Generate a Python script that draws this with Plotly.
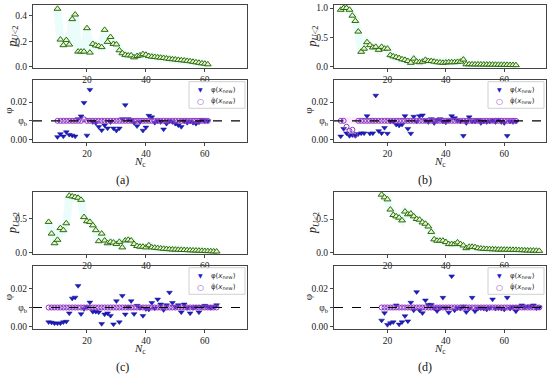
import plotly.graph_objects as go

PHI_T = 0.01
X_TICKS = [20, 40, 60]

# ---------------- panel (a) ----------------
N_a = list(range(10, 62))
pU_a = [0.455, 0.214, 0.17, 0.21, 0.175, 0.374, 0.41, 0.12, 0.12, 0.12,
        0.303, 0.112, 0.18, 0.168, 0.163, 0.155, 0.29, 0.196, 0.234, 0.18,
        0.176, 0.13, 0.107, 0.094, 0.09, 0.09, 0.075, 0.085, 0.09, 0.1,
        0.095, 0.085, 0.08, 0.078, 0.075, 0.072, 0.07, 0.066, 0.063, 0.06,
        0.058, 0.055, 0.052, 0.05, 0.047, 0.044, 0.04, 0.036, 0.032, 0.028,
        0.025, 0.02]
phi_a = [0.0014, 0.003, 0.0017, 0.004, 0.0026, 0.0022, 0.0017, 0.011, 0.0125, 0.0197,
         0.0022, 0.0267, 0.0094, 0.0089, 0.0068, 0.005, 0.0077, 0.006, 0.0094, 0.006,
         0.0048, 0.006, 0.011, 0.0185, 0.011, 0.0103, 0.009, 0.0072, 0.0094, 0.0048,
         0.0065, 0.0128, 0.012, 0.009, 0.0099, 0.0094, 0.0055, 0.0085, 0.0099, 0.0094,
         0.0085, 0.0077, 0.0068, 0.0099, 0.009, 0.0097, 0.009, 0.0085, 0.0092, 0.0106,
         0.0099, 0.0099]
phihat_a = [0.01] * 9 + [0.0108] + [0.01] * 42

# ---------------- panel (b) ----------------
N_b = list(range(4, 65))
pU_b = [0.97, 1.0, 1.0, 0.97, 0.87, 0.78, 0.6, 0.257, 0.31, 0.42,
        0.37, 0.33, 0.34, 0.29, 0.34, 0.31, 0.31, 0.2, 0.18, 0.165,
        0.15, 0.13, 0.12, 0.1, 0.07, 0.14, 0.09, 0.08, 0.09, 0.12,
        0.1, 0.1, 0.09, 0.08, 0.075, 0.07, 0.075, 0.08, 0.08, 0.08,
        0.085, 0.09, 0.125, 0.045, 0.045, 0.044, 0.043, 0.043, 0.042, 0.041,
        0.04, 0.04, 0.039, 0.038, 0.037, 0.036, 0.035, 0.034, 0.033, 0.032,
        0.03]
phi_b = [0.0017, 0.0058, 0.0034, 0.002, 0.0024, 0.002, 0.003, 0.0034, 0.0034, 0.0126,
         0.0032, 0.0034, 0.0236, 0.0046, 0.0034, 0.0063, 0.0032, 0.0097, 0.0097, 0.008,
         0.0075, 0.008, 0.0126, 0.0058, 0.0032, 0.0123, 0.0097, 0.0126, 0.013, 0.0103,
         0.0094, 0.011, 0.0089, 0.0103, 0.011, 0.0097, 0.0092, 0.0103, 0.0126, 0.0115,
         0.0103, 0.0097, 0.002, 0.0089, 0.012, 0.0097, 0.0097, 0.0103, 0.0089, 0.0097,
         0.0094, 0.0097, 0.0103, 0.0094, 0.0106, 0.0094, 0.0089, 0.002, 0.0097, 0.0094,
         0.0097]
phihat_b = [0.01, 0.01, 0.0068, 0.0046, 0.0052, 0.0025] + [0.01] * 55

# ---------------- panel (c) ----------------
N_c = list(range(7, 65))
pU_c = [0.45, 0.28, 0.14, 0.19, 0.36, 0.33, 0.43, 0.83, 0.82, 0.81,
        0.80, 0.77, 0.52, 0.46, 0.45, 0.40, 0.33, 0.17, 0.28, 0.18,
        0.14, 0.16, 0.15, 0.13, 0.16, 0.08, 0.18, 0.19, 0.18, 0.13,
        0.1, 0.09, 0.09, 0.08, 0.11, 0.08, 0.075, 0.07, 0.065, 0.06,
        0.056, 0.053, 0.05, 0.048, 0.046, 0.044, 0.042, 0.04, 0.038, 0.036,
        0.034, 0.032, 0.03, 0.028, 0.026, 0.024, 0.022, 0.02]
phi_c = [0.0023, 0.0021, 0.0017, 0.0017, 0.0017, 0.0023, 0.0026, 0.007, 0.0148, 0.0153,
         0.0214, 0.0066, 0.0092, 0.0104, 0.0127, 0.0078, 0.0078, 0.0075, 0.0014, 0.0064,
         0.007, 0.0057, 0.0012, 0.0134, 0.0023, 0.0162, 0.0064, 0.0104, 0.0134, 0.0066,
         0.011, 0.0099, 0.0056, 0.0092, 0.009, 0.0125, 0.0096, 0.0143, 0.0117, 0.0087,
         0.0113, 0.0179, 0.0125, 0.0104, 0.0113, 0.0075, 0.0117, 0.0099, 0.007, 0.0099,
         0.0104, 0.0075, 0.0104, 0.011, 0.0104, 0.0099, 0.0104, 0.0113]
phihat_c = [0.01] * 58

# ---------------- panel (d) ----------------
N_d = list(range(18, 73))
pU_d = [0.86, 0.82, 0.79, 0.64, 0.56, 0.54, 0.52, 0.48, 0.61, 0.57,
        0.58, 0.54, 0.5, 0.49, 0.45, 0.43, 0.39, 0.31, 0.2, 0.18,
        0.18, 0.18, 0.16, 0.13, 0.13, 0.13, 0.155, 0.13, 0.11, 0.07,
        0.09, 0.09, 0.085, 0.07, 0.065, 0.06, 0.058, 0.056, 0.054, 0.052,
        0.05, 0.049, 0.048, 0.047, 0.046, 0.045, 0.044, 0.042, 0.04, 0.038,
        0.036, 0.035, 0.034, 0.032, 0.03]
phi_d = [0.0032, 0.0071, 0.0009, 0.0018, 0.0023, 0.0112, 0.0011, 0.0023, 0.0055, 0.0028,
         0.0126, 0.0085, 0.0182, 0.0085, 0.0071, 0.0138, 0.0115, 0.0115, 0.0097, 0.0081,
         0.0097, 0.0152, 0.0097, 0.0073, 0.0265, 0.0085, 0.0097, 0.0094, 0.0106, 0.0076,
         0.0094, 0.0152, 0.008, 0.0094, 0.0097, 0.0094, 0.009, 0.0097, 0.0143, 0.0094,
         0.0097, 0.0094, 0.009, 0.0152, 0.0094, 0.0103, 0.008, 0.0103, 0.0112, 0.0103,
         0.0106, 0.0106, 0.0112, 0.0097, 0.0101]
phihat_d = [0.01] * 55

P_RANGES = [[-0.008, 0.485], [-0.017, 1.052], [-0.015, 0.885], [-0.015, 0.9]]
P_TICKS = [[0.0, 0.2, 0.4], [0.0, 0.5, 1.0], [0.0, 0.5], [0.0, 0.5]]
PANEL_LABELS = ["(a)", "(b)", "(c)", "(d)"]
LEGEND_LABELS = ["φ(<i>x</i><sub>new</sub>)", "φ\u0302(<i>x</i><sub>new</sub>)"]

panels = [(N_a, pU_a, phi_a, phihat_a), (N_b, pU_b, phi_b, phihat_b),
          (N_c, pU_c, phi_c, phihat_c), (N_d, pU_d, phi_d, phihat_d)]

W, H = 550, 378
COL_PX = [(33, 247), (334, 546)]
ROW_UP_PX = [(3, 67), (193, 256)]
ROW_LO_PX = [(79, 142), (268, 332)]


def px(x):
    return x / W


def py(y):
    return 1 - y / H


SERIF = "Liberation Serif"
TICKFONT = dict(family=SERIF, size=9.5, color="#222")
BLUE = "#1c1ccc"
PURPLE = "#8a3cc0"

fig = go.Figure()
layout = dict(width=W, height=H, margin=dict(l=0, r=0, t=0, b=0),
              paper_bgcolor="white", plot_bgcolor="white", showlegend=False)
annotations = []
shapes = []


def note(text, x, y, size, family=SERIF, color="#222", xanchor="center", angle=0):
    annotations.append(dict(text=text, xref="paper", yref="paper", x=x, y=y,
                            xanchor=xanchor, yanchor="middle", textangle=angle,
                            showarrow=False, borderpad=0,
                            font=dict(family=family, size=size, color=color)))


for i, (N, pU, phi, hat) in enumerate(panels):
    col, row = i % 2, i // 2
    ia, ib = 2 * i + 1, 2 * i + 2
    xa = "x" if ia == 1 else "x%d" % ia
    ya = "y" if ia == 1 else "y%d" % ia
    xb, yb = "x%d" % ib, "y%d" % ib

    # top subplot
    fig.add_trace(go.Scatter(x=N, y=pU, mode="lines", xaxis=xa, yaxis=ya,
                             line=dict(color="rgba(80,235,225,0.12)", width=8),
                             hoverinfo="skip"))
    fig.add_trace(go.Scatter(x=N, y=pU, mode="markers", xaxis=xa, yaxis=ya,
                             marker=dict(symbol="triangle-up", size=6, color="#e9f7c6",
                                         line=dict(color="#2c6a10", width=1))))
    # bottom subplot
    fig.add_trace(go.Scatter(x=N, y=[PHI_T] * len(N), mode="lines", xaxis=xb, yaxis=yb,
                             line=dict(color="rgba(255,120,255,0.15)", width=7),
                             hoverinfo="skip"))
    fig.add_trace(go.Scatter(x=N, y=phi, mode="markers", xaxis=xb, yaxis=yb,
                             marker=dict(symbol="triangle-down", size=5, color=BLUE,
                                         line=dict(color="#101080", width=0.5))))
    fig.add_trace(go.Scatter(x=N, y=hat, mode="markers", xaxis=xb, yaxis=yb,
                             marker=dict(symbol="circle-open", size=5, color=PURPLE,
                                         line=dict(width=1))))

    cx = [px(COL_PX[col][0]), px(COL_PX[col][1])]
    up = [py(ROW_UP_PX[row][1]), py(ROW_UP_PX[row][0])]
    lo = [py(ROW_LO_PX[row][1]), py(ROW_LO_PX[row][0])]

    ax_common = dict(showline=True, mirror=True, linecolor="#444", linewidth=1,
                     ticks="outside", ticklen=3, tickcolor="#444", showgrid=False,
                     zeroline=False, tickfont=TICKFONT)
    xk_a = "xaxis" if ia == 1 else "xaxis%d" % ia
    yk_a = "yaxis" if ia == 1 else "yaxis%d" % ia
    layout[xk_a] = dict(domain=cx, anchor=ya, range=[1.7, 74.3],
                        tickvals=X_TICKS, **ax_common)
    layout[yk_a] = dict(domain=up, anchor=xa, range=P_RANGES[i],
                        tickvals=P_TICKS[i], tickformat=".1f", **ax_common)
    layout["xaxis%d" % ib] = dict(domain=cx, anchor=yb, range=[1.7, 74.3],
                                  tickvals=X_TICKS, **ax_common)
    layout["yaxis%d" % ib] = dict(domain=lo, anchor=xb, range=[-0.0012, 0.032],
                                  tickvals=[0.0, PHI_T, 0.02],
                                  ticktext=["0.00", "φ<sub>b</sub>", "0.02"], **ax_common)

    shapes.append(dict(type="line", xref="%s domain" % xb, yref=yb, x0=0, x1=1,
                       y0=PHI_T, y1=PHI_T, line=dict(color="black", width=1.2, dash="dash")))

    # manual legend box
    lr = COL_PX[col][1] - 2
    ll = lr - 56
    lt = ROW_LO_PX[row][0] + 2
    lbt = lt + 27
    shapes.append(dict(type="rect", xref="paper", yref="paper",
                       x0=px(ll), x1=px(lr), y0=py(lbt), y1=py(lt),
                       fillcolor="rgba(255,255,255,0.9)", line=dict(color="#d0d0d0", width=1)))
    for k, (sym, colr, sz) in enumerate([("▼", BLUE, 6), ("○", PURPLE, 8)]):
        yy = py(lt + 8 + 12 * k)
        note(sym, px(ll + 11), yy, sz, family="DejaVu Sans", color=colr)
        note(LEGEND_LABELS[k], px(ll + 21), yy, 7, family="DejaVu Sans", xanchor="left")

    xl = 13 if col == 0 else 313
    xphi = 8 if col == 0 else 308
    note("<i>p</i><sub><i>U</i>&lt;2</sub>", px(xl), sum(up) / 2, 12, angle=-90)
    note("φ", px(xphi), sum(lo) / 2, 11, angle=-90)
    yn = 163 if row == 0 else 353
    note("<i>N</i><sub>c</sub>", sum(cx) / 2, py(yn), 11)
    yp = 181 if row == 0 else 371
    xp = 122 if col == 0 else 425
    note(PANEL_LABELS[i], px(xp), py(yp), 12, color="#111")

layout["annotations"] = annotations
layout["shapes"] = shapes
fig.update_layout(**layout)
fig.write_html("out.html", config={"displayModeBar": False},
               post_script="document.body.style.margin='0';")
